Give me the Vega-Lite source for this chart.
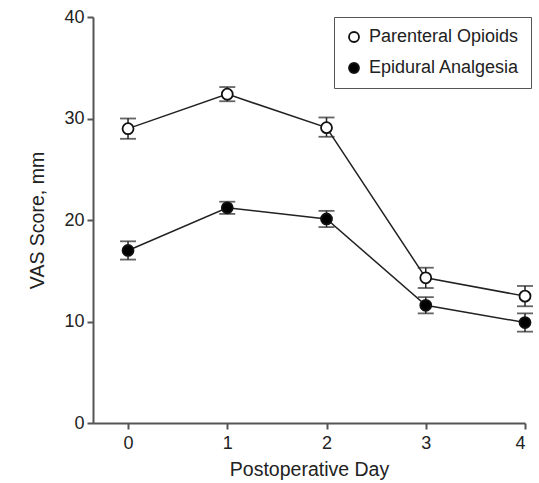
{
  "$schema": "https://vega.github.io/schema/vega-lite/v6.json",
  "width": 432,
  "height": 406,
  "autosize": "none",
  "padding": {"left": 93, "top": 17, "right": 14, "bottom": 60},
  "background": "white",
  "config": {
    "view": {"stroke": null},
    "font": "Liberation Sans",
    "axis": {
      "domainColor": "#555555",
      "domainWidth": 2,
      "tickColor": "#555555",
      "tickWidth": 2,
      "tickSize": 6,
      "labelFont": "Liberation Sans",
      "labelFontSize": 18,
      "labelColor": "#222222",
      "titleFont": "Liberation Sans",
      "titleFontSize": 19.5,
      "titleFontWeight": "normal",
      "titleColor": "#222222",
      "grid": false
    }
  },
  "data": {
    "values": [
      {"day": 0, "group": "Parenteral Opioids", "vas": 29.0, "lo": 28.0, "hi": 30.0},
      {"day": 1, "group": "Parenteral Opioids", "vas": 32.4, "lo": 31.7, "hi": 33.1},
      {"day": 2, "group": "Parenteral Opioids", "vas": 29.1, "lo": 28.2, "hi": 30.1},
      {"day": 3, "group": "Parenteral Opioids", "vas": 14.3, "lo": 13.3, "hi": 15.3},
      {"day": 4, "group": "Parenteral Opioids", "vas": 12.5, "lo": 11.5, "hi": 13.5},
      {"day": 0, "group": "Epidural Analgesia", "vas": 17.0, "lo": 16.1, "hi": 17.9},
      {"day": 1, "group": "Epidural Analgesia", "vas": 21.2, "lo": 20.6, "hi": 21.8},
      {"day": 2, "group": "Epidural Analgesia", "vas": 20.1, "lo": 19.3, "hi": 20.9},
      {"day": 3, "group": "Epidural Analgesia", "vas": 11.6, "lo": 10.8, "hi": 12.4},
      {"day": 4, "group": "Epidural Analgesia", "vas": 9.9, "lo": 9.0, "hi": 10.8}
    ]
  },
  "encoding": {
    "x": {
      "field": "day", "type": "quantitative",
      "scale": {"domain": [-0.353, 4], "nice": false, "zero": false},
      "axis": {"values": [0, 1, 2, 3, 4], "title": "Postoperative Day", "titlePadding": 8, "labelPadding": 5}
    }
  },
  "layer": [
    {
      "mark": {"type": "line", "color": "#222222", "strokeWidth": 1.5},
      "encoding": {
        "y": {
          "field": "vas", "type": "quantitative",
          "scale": {"domain": [0, 40], "nice": false},
          "axis": {"values": [0, 10, 20, 30, 40], "title": "VAS Score, mm", "titlePadding": 16, "labelPadding": 3}
        },
        "detail": {"field": "group"}
      }
    },
    {
      "mark": {"type": "rule", "color": "#222222", "strokeWidth": 1.5},
      "encoding": {
        "y": {"field": "lo", "type": "quantitative"},
        "y2": {"field": "hi"}
      }
    },
    {
      "mark": {"type": "tick", "orient": "horizontal", "color": "#222222", "size": 16, "thickness": 1.8},
      "encoding": {"y": {"field": "lo", "type": "quantitative"}}
    },
    {
      "mark": {"type": "tick", "orient": "horizontal", "color": "#222222", "size": 16, "thickness": 1.8},
      "encoding": {"y": {"field": "hi", "type": "quantitative"}}
    },
    {
      "mark": {"type": "point", "shape": "circle", "size": 120, "strokeWidth": 1.8, "stroke": "#111111", "opacity": 1},
      "encoding": {
        "y": {"field": "vas", "type": "quantitative"},
        "fill": {
          "field": "group", "type": "nominal",
          "scale": {"domain": ["Parenteral Opioids", "Epidural Analgesia"], "range": ["white", "black"]},
          "legend": {
            "title": null,
            "orient": "none",
            "legendX": 241,
            "legendY": 0,
            "strokeColor": "#555555",
            "padding": 11,
            "rowPadding": 13,
            "labelFont": "Liberation Sans",
            "labelFontSize": 18,
            "labelColor": "#222222",
            "symbolType": "circle",
            "symbolSize": 100,
            "symbolStrokeColor": "#111111",
            "symbolStrokeWidth": 1.8,
            "symbolOpacity": 1,
            "labelOffset": 6
          }
        }
      }
    }
  ]
}
